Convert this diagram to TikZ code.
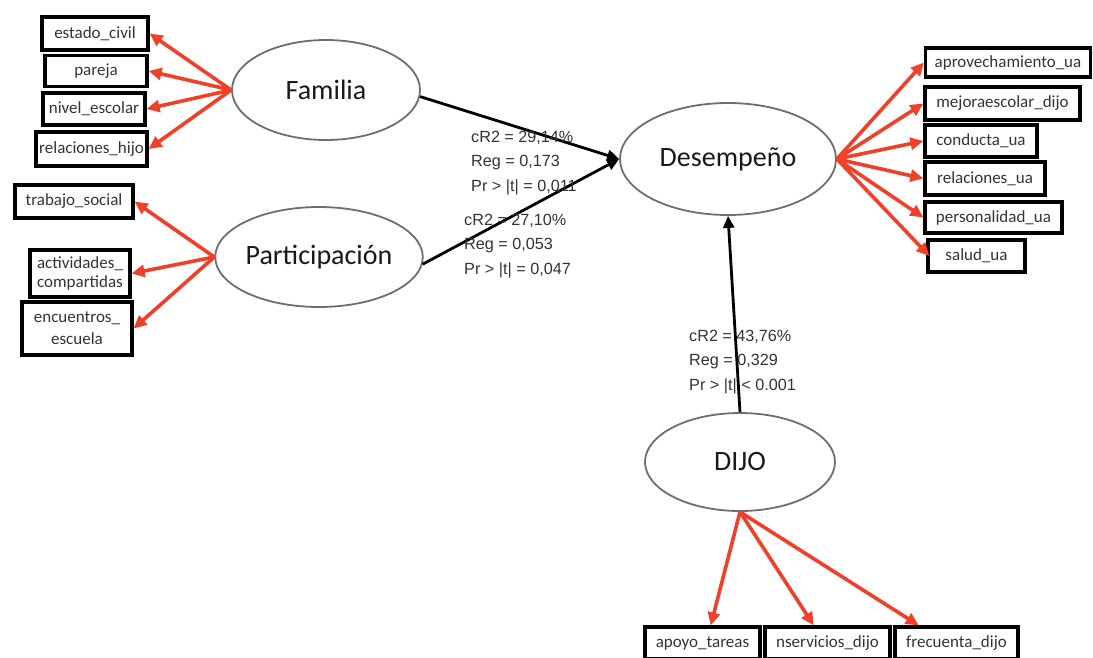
\documentclass[tikz,border=0pt]{standalone}
\usepackage{fontspec}
\setmainfont{Carlito}
\newfontfamily\lblfont{Liberation Sans}
\usetikzlibrary{arrows.meta,shapes.geometric}
\definecolor{arrred}{RGB}{240,64,42}
\definecolor{ellgray}{RGB}{110,110,110}
\tikzset{
  box/.style={draw=black,line width=3.2pt,rectangle,inner sep=0pt,align=center,font=\fontsize{17}{15}\selectfont,text=black!80},
  latent/.style={draw=ellgray,line width=1.8pt,ellipse,inner sep=0pt,font=\fontsize{28}{28}\selectfont,fill=white,text=black!90},
  redarr/.style={draw=arrred,line width=3.6pt,-{Triangle[length=13pt,width=12pt]}},
  blkarr/.style={draw=black,line width=2.8pt,-{Triangle[length=12pt,width=11pt]}},
  stat/.style={anchor=west,align=left,inner sep=0pt,font=\lblfont\fontsize{16.2}{24.5}\selectfont,text=black!80}
}
\begin{document}
\begin{tikzpicture}[x=1pt,y=-1pt]
\useasboundingbox (0,0) rectangle (1093,657);
% latent variables
\node[latent,minimum width=188pt,minimum height=100pt] (fam) at (326,90) {Familia};
\node[latent,minimum width=202pt,minimum height=100pt] (par) at (319,257) {Participación};
\node[latent,minimum width=216pt,minimum height=112pt] (des) at (728,159) {Desempeño};
\node[latent,minimum width=190pt,minimum height=98pt] (dij) at (740,462) {DIJO};
% left boxes
\node[box,minimum width=106pt,minimum height=33pt] (b1) at (95,33.5) {estado\_civil};
\node[box,minimum width=102pt,minimum height=31pt] (b2) at (96,71) {pareja};
\node[box,minimum width=102pt,minimum height=32pt] (b3) at (94,109) {nivel\_escolar};
\node[box,minimum width=111pt,minimum height=34pt] (b4) at (91.5,149) {relaciones\_hijo};
\node[box,minimum width=118pt,minimum height=33pt] (b5) at (74,201.5) {trabajo\_social};
\node[box,minimum width=100pt,minimum height=47pt,font=\fontsize{17}{19}\selectfont] (b6) at (80,273.5) {actividades\_\\compartidas};
\node[box,minimum width=110pt,minimum height=53pt,font=\fontsize{17}{22}\selectfont] (b7) at (77,328.5) {encuentros\_\\escuela};
% right boxes
\node[box,minimum width=165pt,minimum height=29pt] (r1) at (1008,62.5) {aprovechamiento\_ua};
\node[box,minimum width=155pt,minimum height=33pt] (r2) at (1002.5,103.5) {mejoraescolar\_dijo};
\node[box,minimum width=112pt,minimum height=32pt] (r3) at (981,141) {conducta\_ua};
\node[box,minimum width=120pt,minimum height=33pt] (r4) at (985,178.5) {relaciones\_ua};
\node[box,minimum width=137pt,minimum height=31pt] (r5) at (993.5,217.5) {personalidad\_ua};
\node[box,minimum width=97pt,minimum height=32pt] (r6) at (976.5,256) {salud\_ua};
% bottom boxes
\node[box,minimum width=115pt,minimum height=32pt] (d1) at (702.5,643) {apoyo\_tareas};
\node[box,minimum width=125pt,minimum height=32pt] (d2) at (827.5,643) {nservicios\_dijo};
\node[box,minimum width=123pt,minimum height=32pt] (d3) at (956.5,643) {frecuenta\_dijo};
% red arrows
\foreach \b in {b1,b2,b3,b4} \draw[redarr] (fam.west) -- (\b.east);
\foreach \b in {b5,b6,b7} \draw[redarr] (par.west) -- (\b.east);
\foreach \b in {r1,r2,r3,r4,r5} \draw[redarr] (des.east) -- (\b.west);
\draw[redarr] (des.east) -- ([xshift=3pt]r6.west);
\draw[redarr] (dij.south) -- (d1.65);
\draw[redarr] (dij.south) -- (d2.128);
\draw[redarr] (dij.south) -- (d3.155);
% black arrows
\draw[blkarr] (fam.-4) -- (des.west);
\draw[blkarr] (par.-4) -- (des.west);
\draw[blkarr] (dij.north) -- (des.south);
% statistics
\node[stat] (s1) at (471,163) {cR2 = 29,14\%\\Reg = 0,173\\Pr > |t| = 0,011};
\node[stat] (s2) at (464,246) {cR2 = 27,10\%\\Reg = 0,053\\Pr > |t| = 0,047};
\node[stat] (s3) at (689,362) {cR2 = 43,76\%\\Reg = 0,329\\Pr > |t| < 0.001};
\end{tikzpicture}
\end{document}
